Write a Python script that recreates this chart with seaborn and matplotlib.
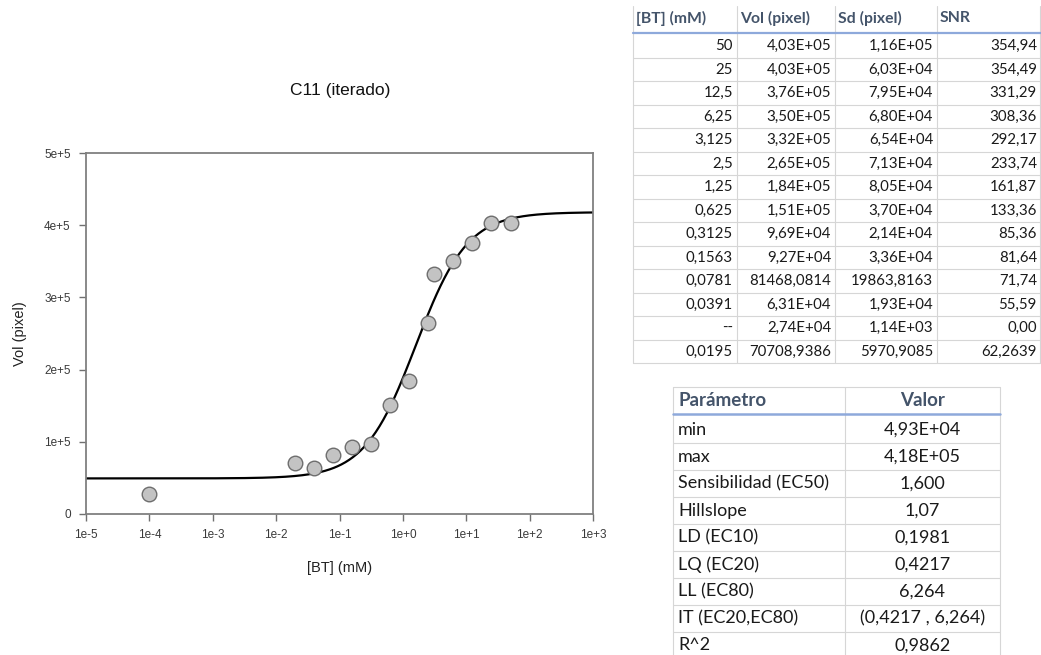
import numpy as np
import pandas as pd
import matplotlib
matplotlib.use("Agg")
import matplotlib.pyplot as plt
import seaborn as sns
from matplotlib.lines import Line2D

# ---------------- data ----------------
bt_labels = ["50", "25", "12,5", "6,25", "3,125", "2,5", "1,25", "0,625",
             "0,3125", "0,1563", "0,0781", "0,0391", "--", "0,0195"]
bt_values = [50, 25, 12.5, 6.25, 3.125, 2.5, 1.25, 0.625,
             0.3125, 0.1563, 0.0781, 0.0391, 1e-4, 0.0195]
vol_values = [4.03e5, 4.03e5, 3.76e5, 3.50e5, 3.32e5, 2.65e5, 1.84e5, 1.51e5,
              9.69e4, 9.27e4, 81468.0814, 6.31e4, 2.74e4, 70708.9386]
vol_labels = ["4,03E+05", "4,03E+05", "3,76E+05", "3,50E+05", "3,32E+05",
              "2,65E+05", "1,84E+05", "1,51E+05", "9,69E+04", "9,27E+04",
              "81468,0814", "6,31E+04", "2,74E+04", "70708,9386"]
sd_labels = ["1,16E+05", "6,03E+04", "7,95E+04", "6,80E+04", "6,54E+04",
             "7,13E+04", "8,05E+04", "3,70E+04", "2,14E+04", "3,36E+04",
             "19863,8163", "1,93E+04", "1,14E+03", "5970,9085"]
snr_labels = ["354,94", "354,49", "331,29", "308,36", "292,17", "233,74",
              "161,87", "133,36", "85,36", "81,64", "71,74", "55,59",
              "0,00", "62,2639"]
table1_headers = ["[BT] (mM)", "Vol (pixel)", "Sd (pixel)", "SNR"]

param_names = ["min", "max", "Sensibilidad (EC50)", "Hillslope", "LD (EC10)",
               "LQ (EC20)", "LL (EC80)", "IT (EC20,EC80)", "R^2"]
param_values = ["4,93E+04", "4,18E+05", "1,600", "1,07", "0,1981", "0,4217",
                "6,264", "(0,4217 , 6,264)", "0,9862"]
table2_headers = ["Parámetro", "Valor"]

# fitted 4PL parameters (from the parameter table)
fit_min = 4.93e4
fit_max = 4.18e5
fit_ec50 = 1.600
fit_hill = 1.07

x_ticks = [1e-5, 1e-4, 1e-3, 1e-2, 1e-1, 1e0, 1e1, 1e2, 1e3]
x_tick_labels = ["1e-5", "1e-4", "1e-3", "1e-2", "1e-1", "1e+0", "1e+1", "1e+2", "1e+3"]
y_ticks = [0, 1e5, 2e5, 3e5, 4e5, 5e5]
y_tick_labels = ["0", "1e+5", "2e+5", "3e+5", "4e+5", "5e+5"]

# ---------------- figure ----------------
W, H = 1041, 655
sns.set_theme(style="white")
plt.rcParams["font.family"] = ["Liberation Sans", "DejaVu Sans"]

fig = plt.figure(figsize=(W / 100, H / 100), dpi=100)
fig.patch.set_facecolor("white")

def fx(x):
    return x / W

def fy(y):
    return 1 - y / H

ax_l, ax_r, ax_t, ax_b = 86, 593, 153, 514
ax = fig.add_axes([fx(ax_l), fy(ax_b), fx(ax_r) - fx(ax_l), fy(ax_t) - fy(ax_b)])

# fitted curve
xc = np.logspace(-5, 3, 400)
yc = fit_min + (fit_max - fit_min) / (1 + (fit_ec50 / xc) ** fit_hill)
sns.lineplot(x=xc, y=yc, ax=ax, color="black", linewidth=1.6)

pts = pd.DataFrame({"x": bt_values, "y": vol_values})
sns.scatterplot(data=pts, x="x", y="y", ax=ax, s=110, color="#c3c3c3",
                edgecolor="#6e6e6e", linewidth=1.0, zorder=5)

ax.set_xscale("log")
ax.set_xlim(1e-5, 1e3)
ax.set_ylim(0, 5e5)
ax.set_xticks(x_ticks)
ax.set_xticklabels(x_tick_labels)
ax.xaxis.set_minor_locator(matplotlib.ticker.NullLocator())
ax.set_yticks(y_ticks)
ax.set_yticklabels(y_tick_labels)
ax.tick_params(axis="both", direction="out", length=5, width=1, color="#707070",
               labelsize=8.5, labelcolor="#3a3a3a", bottom=True, left=True, pad=6)
for s in ax.spines.values():
    s.set_color("#808080")
    s.set_linewidth(1.3)
ax.set_xlabel("[BT] (mM)", fontsize=10.5, color="#222222", labelpad=14)
ax.set_ylabel("Vol (pixel)", fontsize=10.5, color="#222222", labelpad=12)
fig.text(fx(340), fy(90), "C11 (iterado)", ha="center", va="center",
         fontsize=12.5, color="#111111")

# ---------------- tables ----------------
tfont = ["Lato", "DejaVu Sans"]
grid_c = "#d6d6d6"
blue_c = "#8ea9db"
head_c = "#44546a"
body_c = "#1a1a1a"

def hline(x0, x1, y, color, lw):
    fig.add_artist(Line2D([fx(x0), fx(x1)], [fy(y), fy(y)], transform=fig.transFigure,
                          color=color, linewidth=lw))

def vline(x, y0, y1, color, lw):
    fig.add_artist(Line2D([fx(x), fx(x)], [fy(y0), fy(y1)], transform=fig.transFigure,
                          color=color, linewidth=lw))

# Table 1
c1 = [633, 737, 835, 937, 1041]
t1_top, t1_head_y, t1_line = 6, 18, 33
r1_y0, r1_dy = 46, 23.5
n1 = len(bt_labels)
t1_bottom = r1_y0 + (n1 - 1) * r1_dy + r1_dy / 2
for x in c1[:-1]:
    vline(x, t1_top, t1_bottom, grid_c, 0.8)
vline(1040, t1_top, t1_bottom, grid_c, 0.8)
for i in range(n1):
    hline(c1[0], c1[-1], r1_y0 + i * r1_dy + r1_dy / 2, grid_c, 0.8)
hline(c1[0], c1[-1], t1_line, blue_c, 1.6)
for j, h in enumerate(table1_headers):
    fig.text(fx(c1[j] + 3), fy(t1_head_y), h, ha="left", va="center",
             fontsize=11.3, fontweight="bold", color=head_c, family=tfont)
cols = [bt_labels, vol_labels, sd_labels, snr_labels]
for j, col in enumerate(cols):
    for i, v in enumerate(col):
        fig.text(fx(c1[j + 1] - 4), fy(r1_y0 + i * r1_dy), v, ha="right", va="center",
                 fontsize=10.8, color=body_c, family=tfont)

# Table 2
c2 = [673, 845, 1000]
t2_top, t2_head_y, t2_line = 387, 401, 414
r2_y0, r2_dy = 430, 26.9
n2 = len(param_names)
for x in c2:
    vline(x, t2_top, H, grid_c, 0.8)
hline(c2[0], c2[-1], t2_top, grid_c, 0.8)
for i in range(n2 - 1):
    hline(c2[0], c2[-1], r2_y0 + i * r2_dy + r2_dy / 2, grid_c, 0.8)
hline(c2[0], c2[-1], t2_line, blue_c, 1.8)
fig.text(fx(c2[0] + 5), fy(t2_head_y), table2_headers[0], ha="left", va="center",
         fontsize=13.5, fontweight="bold", color=head_c, family=tfont)
fig.text(fx((c2[1] + c2[2]) / 2), fy(t2_head_y), table2_headers[1], ha="center",
         va="center", fontsize=13.5, fontweight="bold", color=head_c, family=tfont)
for i, (n, v) in enumerate(zip(param_names, param_values)):
    yy = fy(r2_y0 + i * r2_dy)
    fig.text(fx(c2[0] + 5), yy, n, ha="left", va="center", fontsize=13,
             color=body_c, family=tfont)
    fig.text(fx((c2[1] + c2[2]) / 2), yy, v, ha="center", va="center",
             fontsize=13, color=body_c, family=tfont)

fig.savefig("out.png", dpi=100, facecolor="white")
